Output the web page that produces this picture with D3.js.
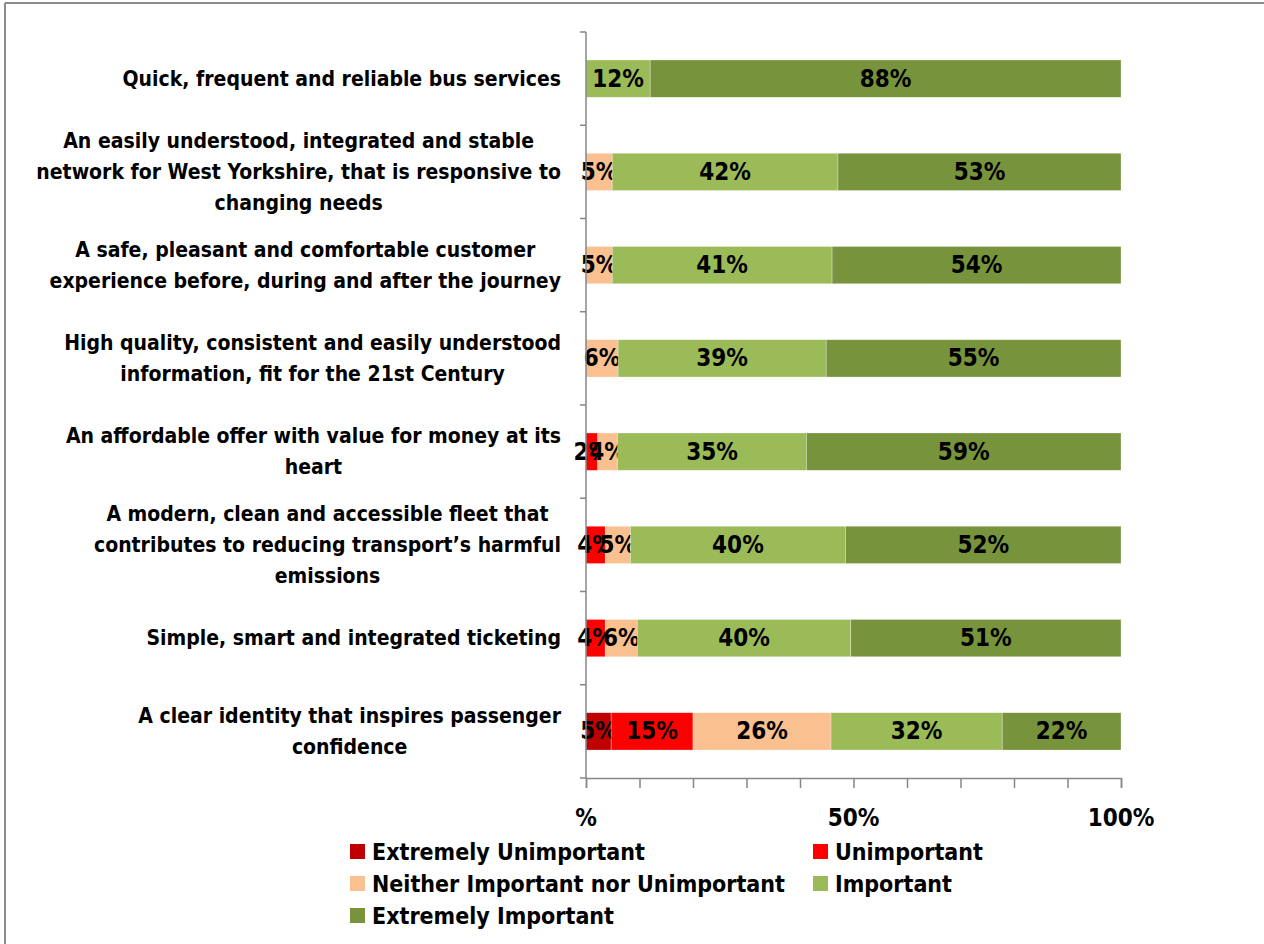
<!DOCTYPE html>
<html>
<head>
<meta charset="utf-8">
<script src="https://cdn.jsdelivr.net/npm/d3@7"></script>
<style>
  body { margin: 0; background: #fff; }
  svg text { font-family: "DejaVu Sans Condensed", "DejaVu Sans", sans-serif; font-stretch: condensed; font-weight: bold; fill: #000; }
</style>
</head>
<body>
<div id="chart"></div>
<script>
// Categories (top to bottom), each split into the lines shown on the chart
const categories = [
    ["Quick, frequent and reliable bus services"],
    ["An easily understood, integrated and stable", "network for West Yorkshire, that is responsive to", "changing needs"],
    ["A safe, pleasant and comfortable customer", "experience before, during and after the journey"],
    ["High quality, consistent and easily understood", "information, fit for the 21st Century"],
    ["An affordable offer with value for money at its", "heart"],
    ["A modern, clean and accessible fleet that", "contributes to reducing transport\u2019s harmful", "emissions"],
    ["Simple, smart and integrated ticketing"],
    ["A clear identity that inspires passenger", "confidence"]
];

const seriesNames = ["Extremely Unimportant", "Unimportant", "Neither Important nor Unimportant", "Important", "Extremely Important"];
const seriesColors = ["#C00000", "#FF0000", "#FAC090", "#9BBB59", "#77933C"];

// Percent values per series, in category order
const extremelyUnimportant = [0, 0, 0, 0, 0, 0, 0, 4.7];
const unimportant          = [0, 0, 0, 0, 2.2, 3.6, 3.6, 15.3];
const neither              = [0, 4.9, 4.9, 6.0, 3.7, 4.7, 6.0, 25.8];
const important            = [12.0, 42.2, 41.1, 38.9, 35.3, 40.2, 40.0, 32.0];
const extremelyImportant   = [88.0, 52.9, 54.0, 55.1, 58.8, 51.5, 50.6, 22.2];

const xTickValues = [0, 0.5, 1];
const xTickLabels = ["%", "50%", "100%"];

const width = 1264, height = 944;

const svg = d3.select("#chart").append("svg")
    .attr("width", width)
    .attr("height", height);

// outer frame (top and left edges visible)
svg.append("line").attr("x1", 5).attr("x2", width).attr("y1", 3).attr("y2", 3)
    .attr("stroke", "#8c8c8c").attr("stroke-width", 2);
svg.append("line").attr("x1", 5).attr("x2", 5).attr("y1", 3).attr("y2", height)
    .attr("stroke", "#8c8c8c").attr("stroke-width", 2);

const seriesData = [extremelyUnimportant, unimportant, neither, important, extremelyImportant];
const rows = categories.map((c, i) => {
    const r = { idx: i };
    seriesNames.forEach((s, j) => { r[s] = seriesData[j][i]; });
    return r;
});

const stack = d3.stack().keys(seriesNames).offset(d3.stackOffsetExpand);
const stacked = stack(rows);

const x = d3.scaleLinear().domain([0, 1]).range([586, 1121]);
const y = d3.scaleBand().domain(d3.range(categories.length)).range([32, 778])
    .paddingInner(0.6).paddingOuter(0.3);

// bars
const layers = svg.selectAll("g.layer")
    .data(stacked)
    .enter().append("g")
    .attr("class", "layer")
    .attr("fill", (d, i) => seriesColors[i]);

layers.selectAll("rect")
    .data(d => d)
    .enter().append("rect")
    .attr("x", d => x(d[0]))
    .attr("y", d => y(d.data.idx))
    .attr("width", d => x(d[1]) - x(d[0]))
    .attr("height", y.bandwidth())
    .attr("stroke", "#fff")
    .attr("stroke-opacity", 0.5)
    .attr("stroke-width", 0.6);

// value labels
layers.selectAll("text")
    .data(d => d.filter(v => v.data[d.key] > 0).map(v => ({ v, key: d.key })))
    .enter().append("text")
    .attr("x", d => (x(d.v[0]) + x(d.v[1])) / 2)
    .attr("y", d => y(d.v.data.idx) + y.bandwidth() / 2)
    .attr("text-anchor", "middle")
    .attr("dominant-baseline", "central")
    .attr("font-size", "24px")
    .text(d => Math.round(d.v.data[d.key]) + "%");

// Y axis: vertical line + ticks between categories
const yAxisG = svg.append("g").attr("stroke", "#868686").attr("stroke-width", 1.5);
yAxisG.append("line").attr("x1", 586).attr("x2", 586).attr("y1", 32).attr("y2", 778);
const boundaries = d3.range(categories.length + 1).map(i => 32 + i * y.step());
yAxisG.selectAll("line.tick").data(boundaries).enter().append("line")
    .attr("class", "tick")
    .attr("x1", 580).attr("x2", 586)
    .attr("y1", d => d).attr("y2", d => d);

// X axis
const xAxisG = svg.append("g").attr("transform", "translate(0,778)");
xAxisG.call(d3.axisBottom(x).tickValues(d3.range(0, 1.0001, 0.1)).tickSize(10).tickFormat(""));
xAxisG.select(".domain").attr("stroke", "#868686").attr("stroke-width", 1.5);
xAxisG.selectAll(".tick line").attr("stroke", "#868686").attr("stroke-width", 1.5);

svg.selectAll("text.xlab")
    .data(xTickValues)
    .enter().append("text")
    .attr("class", "xlab")
    .attr("x", d => x(d))
    .attr("y", 818)
    .attr("text-anchor", "middle")
    .attr("dominant-baseline", "central")
    .attr("font-size", "24px")
    .text((d, i) => xTickLabels[i]);

// category labels: lines centred on each other, block right-aligned
const lineH = 31;
categories.forEach((lines, i) => {
    const g = svg.append("g");
    const cy = y(i) + y.bandwidth() / 2;
    const texts = lines.map((ln, k) => g.append("text")
        .attr("y", cy + (k - (lines.length - 1) / 2) * lineH)
        .attr("dominant-baseline", "central")
        .attr("text-anchor", "middle")
        .attr("font-size", "21px")
        .text(ln));
    const maxW = d3.max(texts, t => t.node().getComputedTextLength());
    texts.forEach(t => t.attr("x", 561 - maxW / 2));
});

// legend
const legendPos = [[350, 852], [813, 852], [350, 884], [813, 884], [350, 916]];
const legend = svg.selectAll("g.legend")
    .data(seriesNames)
    .enter().append("g")
    .attr("class", "legend")
    .attr("transform", (d, i) => `translate(${legendPos[i][0]},${legendPos[i][1]})`);
legend.append("rect")
    .attr("x", 0).attr("y", -8)
    .attr("width", 15).attr("height", 15)
    .attr("fill", (d, i) => seriesColors[i]);
legend.append("text")
    .attr("x", 22).attr("y", 0)
    .attr("dominant-baseline", "central")
    .attr("font-size", "23px")
    .text(d => d);
</script>
</body>
</html>
